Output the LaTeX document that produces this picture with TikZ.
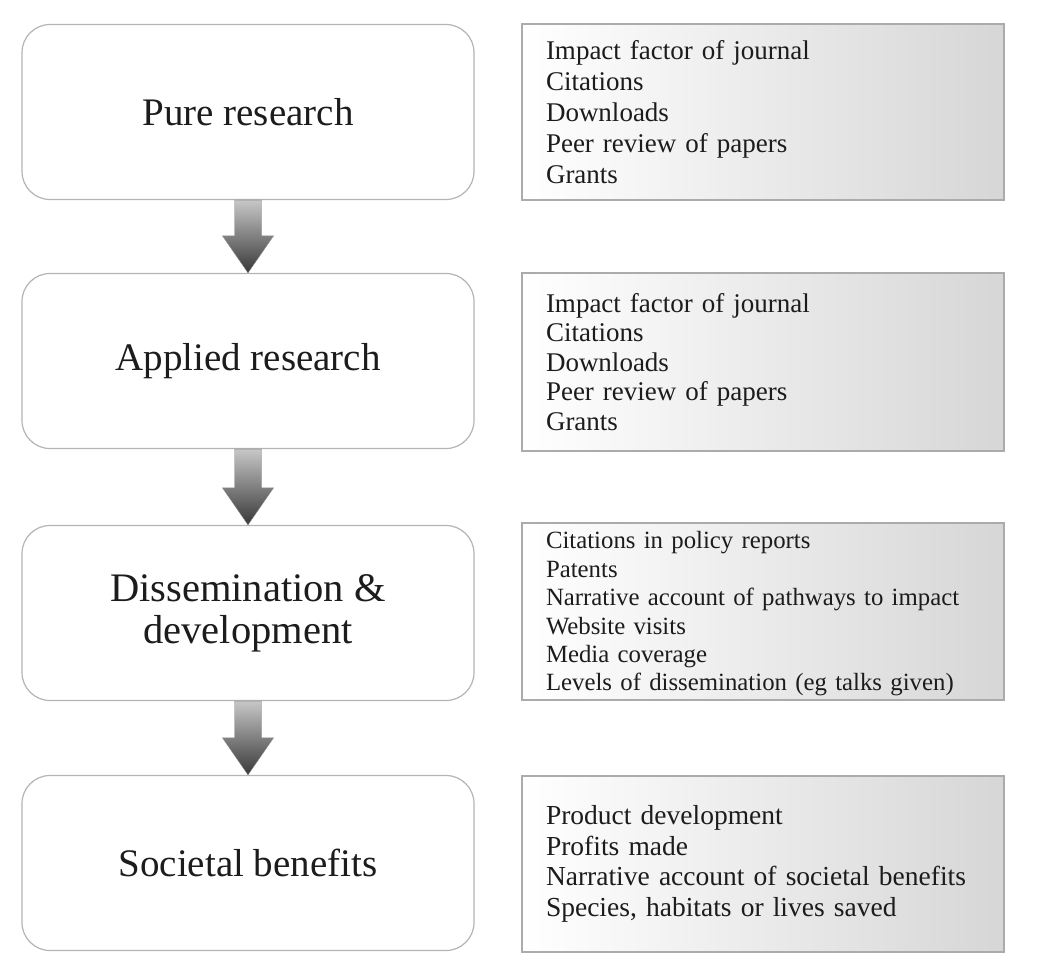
\documentclass[tikz,border=0pt]{standalone}
\usepackage{fontspec}
\setmainfont{Liberation Serif}
\usetikzlibrary{calc}
\definecolor{boxline}{HTML}{B4B4B4}
\definecolor{listline}{HTML}{ABABAB}
\definecolor{txt}{HTML}{1C1C1C}
\tikzset{
  stage/.style={draw=boxline, line width=1.2pt, rounded corners=28pt, fill=white,
    minimum width=452pt, minimum height=175pt, align=center, text=txt,
    font=\fontsize{39}{42}\selectfont, inner sep=0pt},
  measures/.style={draw=listline, line width=1.2pt, left color=white, right color=black!16,
    minimum width=482pt, text width=434pt, inner xsep=24pt, inner ysep=0pt, align=left, text=txt},
  flowarrow/.style={top color=black!22, bottom color=black!78, draw=black!45, line width=0.4pt}
}
\begin{document}
\begin{tikzpicture}[x=1pt,y=-1pt]
\useasboundingbox (0,0) rectangle (1044,972);
% left stages
\node[stage] (s1) at (248,112) {Pure research};
\node[stage] (s2) at (248,361) {Applied research};
\node[stage, font=\fontsize{40.5}{42}\selectfont] (s3) at (248,613) {Dissemination \&\\development};
\node[stage] (s4) at (248,863) {Societal benefits};
% right measures
\node[measures, minimum height=176pt, font=\fontsize{27}{31}\selectfont] (m1) at (763,112)
  {Impact factor of journal\\Citations\\Downloads\\Peer review of papers\\Grants};
\node[measures, minimum height=178pt, font=\fontsize{27}{29.5}\selectfont] (m2) at (763,362)
  {Impact factor of journal\\Citations\\Downloads\\Peer review of papers\\Grants};
\node[measures, minimum height=177pt, font=\fontsize{24.8}{28.4}\selectfont] (m3) at (763,611.5)
  {\rule{0pt}{22pt}Citations in policy reports\\Patents\\Narrative account of pathways to impact\\Website visits\\Media coverage\\Levels of dissemination (eg talks given)};
\node[measures, minimum height=176pt, font=\fontsize{27.5}{30.7}\selectfont] (m4) at (763,864)
  {Product development\\Profits made\\Narrative account of societal benefits\\Species, habitats or lives saved};
% block arrows
\foreach \a/\b in {s1/s2, s2/s3, s3/s4}{
  \shade[flowarrow]
    ($(\a.south)+(-13.5,0)$) -- ($(\b.north)+(-13.5,-37)$) -- ($(\b.north)+(-25.5,-37)$)
    -- (\b.north) -- ($(\b.north)+(25.5,-37)$) -- ($(\b.north)+(13.5,-37)$)
    -- ($(\a.south)+(13.5,0)$) -- cycle;
}
\end{tikzpicture}
\end{document}
